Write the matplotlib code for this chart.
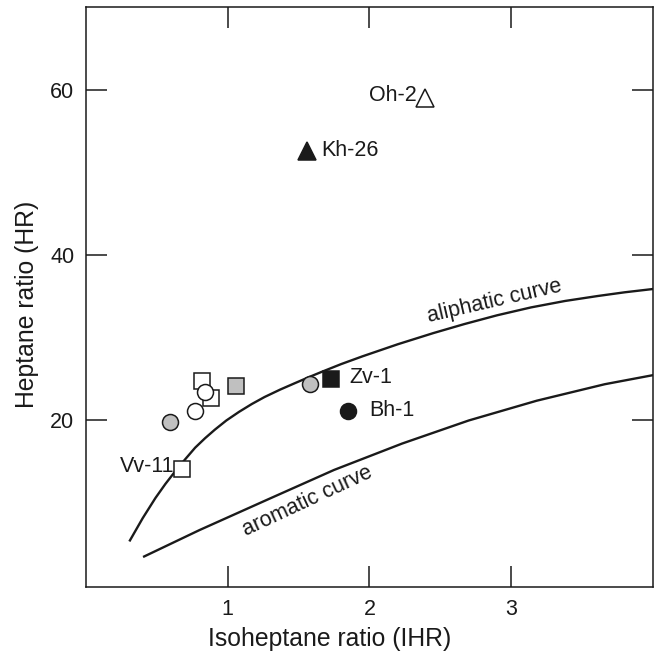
import matplotlib
matplotlib.use("Agg")
import matplotlib.pyplot as plt

plt.rcParams['font.family'] = ['Liberation Sans', 'DejaVu Sans']

# sample points, grouped by symbol (IHR, HR)
open_sq_x = [0.82, 0.88, 0.68]
open_sq_y = [24.7, 22.6, 14.0]
gray_sq_x = [1.06]
gray_sq_y = [24.1]
black_sq_x = [1.73]
black_sq_y = [24.9]
open_ci_x = [0.84, 0.77]
open_ci_y = [23.4, 21.1]
gray_ci_x = [0.59, 1.58]
gray_ci_y = [19.7, 24.3]
black_ci_x = [1.85]
black_ci_y = [21.1]
black_tri_x = [1.56]
black_tri_y = [52.6]
open_tri_x = [2.39]
open_tri_y = [59.0]

# reference curves
aliph_x = [0.31, 0.40, 0.49, 0.56, 0.63, 0.70, 0.77, 0.84, 0.91, 0.99, 1.08, 1.17,
           1.26, 1.37, 1.47, 1.57, 1.66, 1.80, 1.95, 2.20, 2.45, 2.67, 2.90, 3.14,
           3.38, 3.61, 3.80, 4.0]
aliph_y = [5.35, 8.05, 10.5, 12.2, 13.75, 15.2, 16.6, 17.75, 18.8, 19.9, 20.95, 21.9,
           22.75, 23.65, 24.4, 25.14, 25.78, 26.74, 27.68, 29.15, 30.5, 31.6, 32.66, 33.62,
           34.4, 35.0, 35.45, 35.85]
arom_x = [0.41, 0.80, 1.28, 1.75, 2.23, 2.70, 3.18, 3.66, 4.0]
arom_y = [3.4, 6.6, 10.3, 13.9, 17.1, 19.9, 22.3, 24.3, 25.4]

ink = '#1a1a1a'
gray = '#c0c0c0'
fs = 15.5

fig = plt.figure(figsize=(6.58, 6.52), dpi=100)
ax = fig.add_axes([0.1307, 0.0997, 0.8617, 0.8888])

ax.plot(aliph_x, aliph_y, color=ink, lw=1.7, zorder=2, solid_joinstyle='round')
ax.plot(arom_x, arom_y, color=ink, lw=1.7, zorder=2, solid_joinstyle='round')

mk = dict(linestyle='none', markeredgecolor=ink, markeredgewidth=1.1, zorder=3)
ax.plot(open_sq_x, open_sq_y, marker='s', ms=12, mfc='white', **mk)
ax.plot(gray_sq_x, gray_sq_y, marker='s', ms=12, mfc=gray, **mk)
ax.plot(black_sq_x, black_sq_y, marker='s', ms=12, mfc=ink, **mk)
ax.plot(open_ci_x, open_ci_y, marker='o', ms=11.5, mfc='white', **mk)
ax.plot(gray_ci_x, gray_ci_y, marker='o', ms=11.5, mfc=gray, **mk)
ax.plot(black_ci_x, black_ci_y, marker='o', ms=11.5, mfc=ink, **mk)
ax.plot(black_tri_x, black_tri_y, marker='^', ms=13, mfc=ink, **mk)
ax.plot(open_tri_x, open_tri_y, marker='^', ms=13, mfc='white', **mk)

# sample names next to their symbols
lab = dict(textcoords='offset points', va='center', fontsize=fs, color=ink)
ax.annotate('Kh-26', (black_tri_x[0], black_tri_y[0]), xytext=(10, 0), ha='left', **lab)
ax.annotate('Oh-2', (open_tri_x[0], open_tri_y[0]), xytext=(-6, 2), ha='right', **lab)
ax.annotate('Zv-1', (black_sq_x[0], black_sq_y[0]), xytext=(13, 1), ha='left', **lab)
ax.annotate('Bh-1', (black_ci_x[0], black_ci_y[0]), xytext=(15, 0), ha='left', **lab)
ax.annotate('Vv-11', (open_sq_x[2], open_sq_y[2]), xytext=(-6, 2), ha='right', **lab)

ax.text(2.88, 34.4, 'aliphatic curve', rotation=13, ha='center', va='center',
        fontsize=fs, color=ink)
ax.text(1.56, 10.1, 'aromatic curve', rotation=25, ha='center', va='center',
        fontsize=fs, color=ink)

ax.set_xlim(0, 4)
ax.set_ylim(-0.3, 70)
ax.set_xticks([1, 2, 3])
ax.set_yticks([20, 40, 60])
ax.tick_params(direction='in', length=15, width=1.1, top=True, right=True,
               labelsize=fs, colors=ink)
ax.tick_params(axis='x', pad=9)
ax.tick_params(axis='y', pad=8.5)
for s in ax.spines.values():
    s.set_linewidth(1.1)
    s.set_color(ink)

ax.set_xlabel('Isoheptane ratio (IHR)', fontsize=17.8, color=ink, labelpad=5)
ax.set_ylabel('Heptane ratio (HR)', fontsize=17.8, color=ink, labelpad=8)
ax.xaxis.label.set_x(0.43)
ax.yaxis.label.set_y(0.487)

fig.savefig('out.png', dpi=100)
